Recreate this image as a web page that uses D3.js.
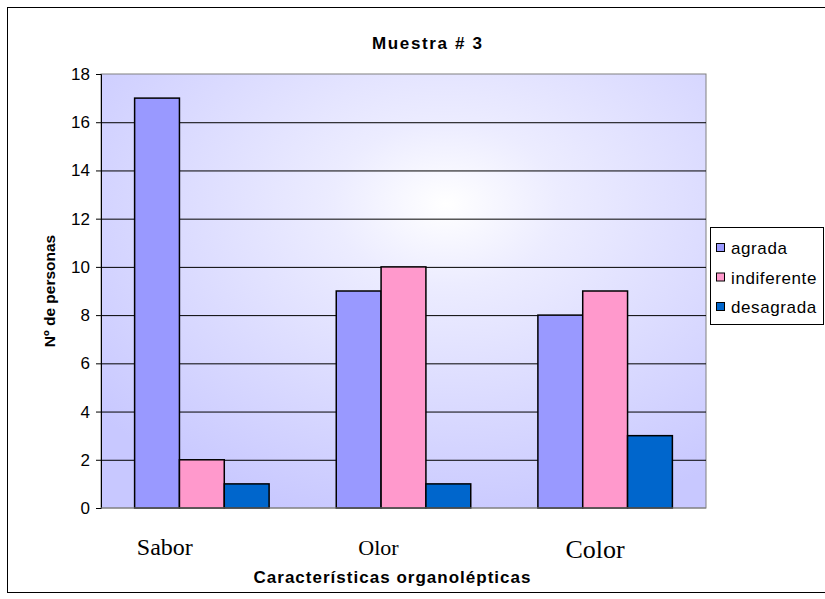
<!DOCTYPE html>
<html>
<head>
<meta charset="utf-8">
<title>Muestra # 3</title>
<script src="https://cdn.jsdelivr.net/npm/d3@7"></script>
<style>
body { margin: 0; background: #fff; }
text { font-family: Arial, "Liberation Sans", sans-serif; }
</style>
</head>
<body>
<div id="grafico"></div>
<script>
// datos
var categorias = ["Sabor", "Olor", "Color"];
var series = ["agrada", "indiferente", "desagrada"];
var agrada = [17, 9, 8];
var indiferente = [2, 10, 9];
var desagrada = [1, 1, 3];
var ticksY = [0, 2, 4, 6, 8, 10, 12, 14, 16, 18];

var valores = [agrada, indiferente, desagrada];
var colores = ["#9999FF", "#FF99CC", "#0066CC"];

var W = 825, H = 599;
var margin = {top: 74, left: 101, right: 119, bottom: 91};
var width = W - margin.left - margin.right,
    height = H - margin.top - margin.bottom;

var svg = d3.select("#grafico").append("svg")
    .attr("width", W)
    .attr("height", H);

// borde exterior
svg.append("rect")
    .attr("x", 7.5).attr("y", 7.5)
    .attr("width", 830).attr("height", 585)
    .attr("fill", "#fff").attr("stroke", "#000");

var defs = svg.append("defs");
var grad = defs.append("radialGradient")
    .attr("id", "fondo")
    .attr("cx", "0.57").attr("cy", "0.3")
    .attr("r", "0.75");
grad.append("stop").attr("offset", "0").attr("stop-color", "#ffffff");
grad.append("stop").attr("offset", "0.25").attr("stop-color", "#ececff");
grad.append("stop").attr("offset", "1").attr("stop-color", "#c8c8ff");

var g = svg.append("g")
    .attr("transform", "translate(" + margin.left + "," + margin.top + ")");

var x0 = d3.scaleBand()
    .domain(categorias)
    .range([0, width])
    .paddingInner(0.333)
    .paddingOuter(0.1667);

var x1 = d3.scaleBand()
    .domain(series)
    .range([0, x0.bandwidth()]);

var y = d3.scaleLinear()
    .domain([0, 18])
    .range([height, 0]);

// fondo del area de trazado
g.append("rect")
    .attr("width", width).attr("height", height)
    .attr("fill", "url(#fondo)")
    .attr("stroke", "#808080");

// lineas de division
g.selectAll(".grid")
    .data(ticksY.filter(function(d) { return d > 0 && d < 18; }))
  .enter().append("line")
    .attr("x1", 0).attr("x2", width)
    .attr("y1", function(d) { return y(d) + 0.5; })
    .attr("y2", function(d) { return y(d) + 0.5; })
    .attr("stroke", "#000");

// barras
var grupo = g.selectAll(".cat")
    .data(categorias)
  .enter().append("g")
    .attr("transform", function(d) { return "translate(" + x0(d) + ",0)"; });

grupo.selectAll("rect")
    .data(function(c, i) {
        return series.map(function(s, j) { return {serie: s, valor: valores[j][i], j: j}; });
    })
  .enter().append("rect")
    .attr("x", function(d) { return x1(d.serie); })
    .attr("y", function(d) { return y(d.valor); })
    .attr("width", x1.bandwidth())
    .attr("height", function(d) { return height - y(d.valor); })
    .attr("fill", function(d) { return colores[d.j]; })
    .attr("stroke", "#000")
    .attr("stroke-width", 1.5);

// eje y
var yAxis = d3.axisLeft(y)
    .tickValues(ticksY)
    .tickSize(5)
    .tickPadding(6);

var ga = g.append("g").attr("class", "y axis").call(yAxis);
ga.select(".domain").attr("stroke", "#000");
ga.selectAll("text")
    .style("font-family", "Arial, 'Liberation Sans', sans-serif")
    .style("font-size", "17px")
    .attr("fill", "#000");

// linea base en 0
g.append("line")
    .attr("x1", 0).attr("x2", width)
    .attr("y1", height).attr("y2", height)
    .attr("stroke", "#808080");

// etiquetas de categoria (cuadros de texto desplazados)
var desplaz = [-37, -25, -10];
var tamanos = [24, 22, 26];
g.selectAll(".catlabel")
    .data(categorias)
  .enter().append("text")
    .attr("x", function(d, i) { return x0(d) + x0.bandwidth() / 2 + desplaz[i]; })
    .attr("y", function(d, i) { return height + 47 + (i == 2 ? 3 : 0); })
    .attr("text-anchor", "middle")
    .style("font-family", "'Liberation Serif', 'Times New Roman', serif")
    .style("font-size", function(d, i) { return tamanos[i] + "px"; })
    .text(function(d) { return d; });

// titulo
svg.append("text")
    .attr("x", 427).attr("y", 49)
    .attr("text-anchor", "middle")
    .style("font-size", "17px").style("font-weight", "bold")
    .attr("textLength", 110).attr("lengthAdjust", "spacing")
    .text("Muestra # 3");

// titulo eje x
svg.append("text")
    .attr("x", 392).attr("y", 583)
    .attr("text-anchor", "middle")
    .style("font-size", "17px").style("font-weight", "bold")
    .attr("textLength", 277).attr("lengthAdjust", "spacing")
    .text("Características organolépticas");

// titulo eje y
svg.append("text")
    .attr("transform", "translate(55," + (margin.top + height / 2) + ") rotate(-90)")
    .attr("text-anchor", "middle")
    .style("font-size", "15.5px").style("font-weight", "bold")
    .text("Nº de personas");

// leyenda
var ley = svg.append("g").attr("transform", "translate(710,227)");
ley.append("rect")
    .attr("x", 0.5).attr("y", 0.5)
    .attr("width", 113).attr("height", 97)
    .attr("fill", "#fff").attr("stroke", "#000");

var item = ley.selectAll(".item")
    .data(series)
  .enter().append("g")
    .attr("transform", function(d, i) { return "translate(0," + (21 + i * 29.5) + ")"; });

item.append("rect")
    .attr("x", 6.5).attr("y", -4.5)
    .attr("width", 8).attr("height", 8)
    .attr("fill", function(d, i) { return colores[i]; })
    .attr("stroke", "#000");

item.append("text")
    .attr("x", 21).attr("y", 6)
    .style("font-size", "17px")
    .style("letter-spacing", "0.6px")
    .text(function(d) { return d; });
</script>
</body>
</html>
